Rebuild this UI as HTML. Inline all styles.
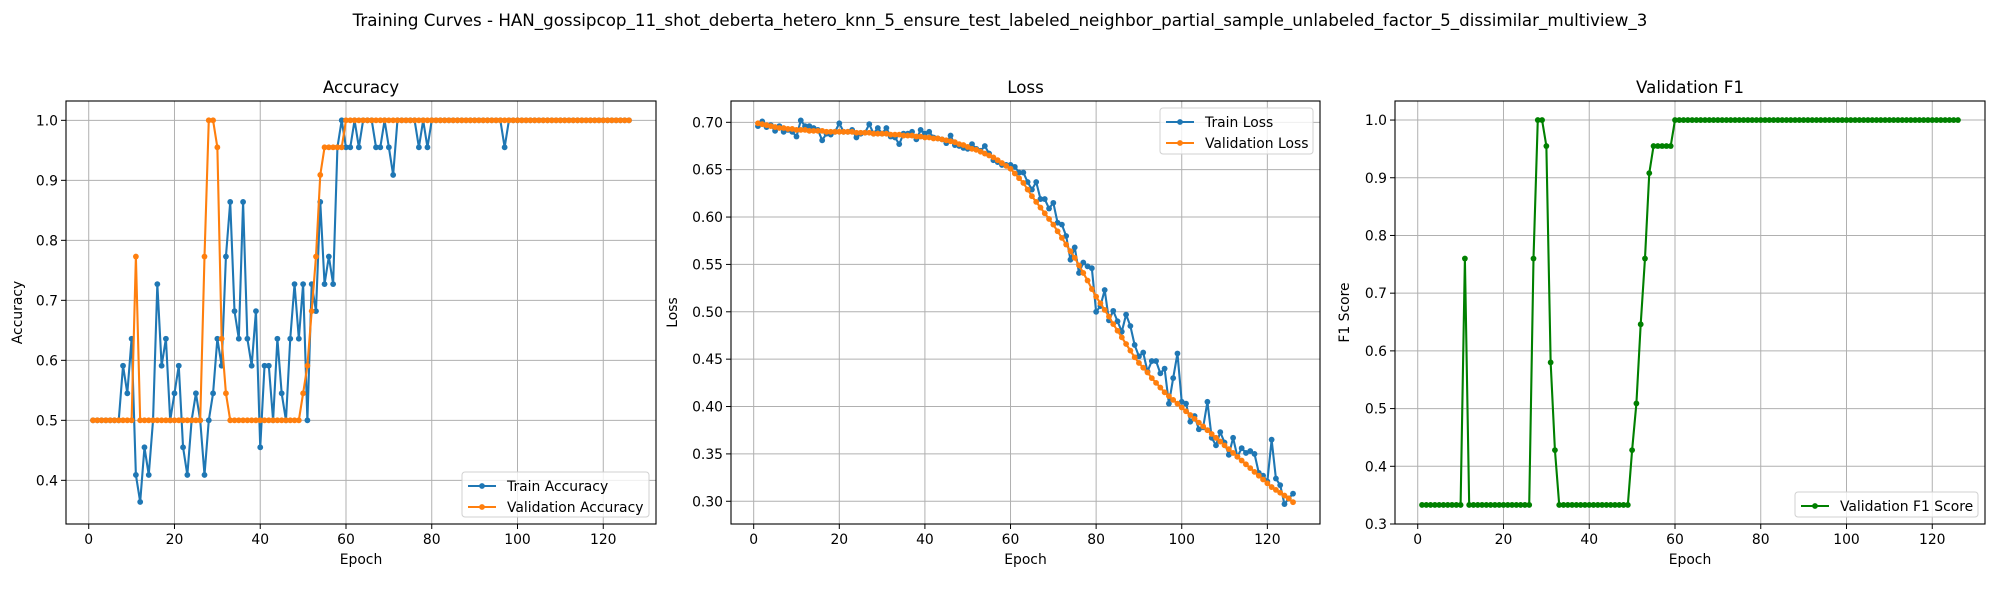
<!DOCTYPE html>
<html><head><meta charset="utf-8"><style>
body{margin:0;background:#fff;}
svg{display:block;font-family:"DejaVu Sans","Liberation Sans",sans-serif;}
</style></head><body>
<svg id="fig" width="2000" height="600" viewBox="0 0 2000 600" xmlns="http://www.w3.org/2000/svg">
<rect width="2000" height="600" fill="#fff"/>
<text x="1000" y="26" text-anchor="middle" font-size="16.7" fill="#000">Training Curves - HAN_gossipcop_11_shot_deberta_hetero_knn_5_ensure_test_labeled_neighbor_partial_sample_unlabeled_factor_5_dissimilar_multiview_3</text>
</svg>
<script>
const xTicks=[0,20,40,60,80,100,120];
const accTicks=[0.4,0.5,0.6,0.7,0.8,0.9,1.0];
const lossTicks=[0.30,0.35,0.40,0.45,0.50,0.55,0.60,0.65,0.70];
const f1Ticks=[0.3,0.4,0.5,0.6,0.7,0.8,0.9,1.0];
const trainAcc=[0.5,0.5,0.5,0.5,0.5,0.5,0.5,0.591,0.545,0.636,0.409,0.364,0.455,0.409,0.5,0.727,0.591,0.636,0.5,0.545,0.591,0.455,0.409,0.5,0.545,0.5,0.409,0.5,0.545,0.636,0.591,0.773,0.864,0.682,0.636,0.864,0.636,0.591,0.682,0.455,0.591,0.591,0.5,0.636,0.545,0.5,0.636,0.727,0.636,0.727,0.5,0.727,0.682,0.864,0.727,0.773,0.727,0.955,1.0,0.955,0.955,1.0,0.955,1.0,1.0,1.0,0.955,0.955,1.0,0.955,0.909,1,1,1,1,1,0.955,1.0,0.955,1,1,1,1,1,1,1,1,1,1,1,1,1,1,1,1,1,0.955,1,1,1,1,1,1,1,1,1,1,1,1,1,1,1,1,1,1,1,1,1,1,1,1,1,1,1,1,1];
const valAcc=[0.5,0.5,0.5,0.5,0.5,0.5,0.5,0.5,0.5,0.5,0.773,0.5,0.5,0.5,0.5,0.5,0.5,0.5,0.5,0.5,0.5,0.5,0.5,0.5,0.5,0.5,0.773,1.0,1.0,0.955,0.636,0.545,0.5,0.5,0.5,0.5,0.5,0.5,0.5,0.5,0.5,0.5,0.5,0.5,0.5,0.5,0.5,0.5,0.5,0.545,0.591,0.682,0.773,0.909,0.955,0.955,0.955,0.955,0.955,1,1,1,1,1,1,1,1,1,1,1,1,1,1,1,1,1,1,1,1,1,1,1,1,1,1,1,1,1,1,1,1,1,1,1,1,1,1,1,1,1,1,1,1,1,1,1,1,1,1,1,1,1,1,1,1,1,1,1,1,1,1,1,1,1,1,1];
const trainLoss=[0.696,0.701,0.695,0.697,0.691,0.696,0.690,0.692,0.690,0.685,0.702,0.696,0.696,0.694,0.692,0.681,0.688,0.687,0.690,0.699,0.690,0.690,0.692,0.684,0.688,0.689,0.698,0.688,0.694,0.688,0.694,0.685,0.684,0.677,0.688,0.688,0.690,0.682,0.692,0.688,0.690,0.684,0.683,0.682,0.678,0.686,0.676,0.675,0.673,0.672,0.677,0.672,0.670,0.675,0.667,0.660,0.658,0.655,0.655,0.655,0.653,0.647,0.647,0.637,0.629,0.637,0.619,0.619,0.609,0.615,0.594,0.592,0.580,0.555,0.568,0.541,0.552,0.548,0.546,0.500,0.506,0.523,0.491,0.501,0.490,0.479,0.497,0.485,0.465,0.453,0.457,0.437,0.448,0.448,0.435,0.440,0.403,0.430,0.456,0.405,0.403,0.384,0.390,0.376,0.378,0.405,0.367,0.359,0.373,0.362,0.349,0.367,0.347,0.356,0.351,0.353,0.350,0.330,0.327,0.321,0.365,0.324,0.317,0.297,0.303,0.308];
const valLoss=[0.699,0.698,0.697,0.696,0.695,0.694,0.694,0.693,0.693,0.692,0.692,0.692,0.691,0.691,0.691,0.691,0.690,0.690,0.690,0.690,0.690,0.690,0.690,0.689,0.689,0.689,0.689,0.688,0.688,0.688,0.688,0.687,0.687,0.687,0.686,0.686,0.686,0.685,0.685,0.684,0.684,0.683,0.683,0.682,0.681,0.680,0.679,0.677,0.676,0.674,0.672,0.671,0.669,0.667,0.665,0.663,0.660,0.657,0.654,0.651,0.646,0.641,0.636,0.629,0.622,0.616,0.610,0.604,0.598,0.592,0.585,0.578,0.571,0.564,0.557,0.549,0.541,0.533,0.524,0.516,0.509,0.502,0.495,0.487,0.480,0.473,0.466,0.459,0.452,0.446,0.441,0.436,0.430,0.425,0.420,0.415,0.411,0.407,0.403,0.399,0.395,0.391,0.387,0.383,0.379,0.375,0.371,0.367,0.363,0.359,0.355,0.351,0.347,0.343,0.339,0.335,0.331,0.327,0.323,0.319,0.315,0.312,0.309,0.306,0.303,0.299];
const valF1=[0.333,0.333,0.333,0.333,0.333,0.333,0.333,0.333,0.333,0.333,0.76,0.333,0.333,0.333,0.333,0.333,0.333,0.333,0.333,0.333,0.333,0.333,0.333,0.333,0.333,0.333,0.76,1.0,1.0,0.955,0.58,0.428,0.333,0.333,0.333,0.333,0.333,0.333,0.333,0.333,0.333,0.333,0.333,0.333,0.333,0.333,0.333,0.333,0.333,0.428,0.509,0.646,0.76,0.908,0.955,0.955,0.955,0.955,0.955,1,1,1,1,1,1,1,1,1,1,1,1,1,1,1,1,1,1,1,1,1,1,1,1,1,1,1,1,1,1,1,1,1,1,1,1,1,1,1,1,1,1,1,1,1,1,1,1,1,1,1,1,1,1,1,1,1,1,1,1,1,1,1,1,1,1,1];

const NS="http://www.w3.org/2000/svg";
const fig=document.getElementById('fig');
function mk(tag,attrs,parent){const e=document.createElementNS(NS,tag);for(const k in attrs)e.setAttribute(k,attrs[k]);(parent||fig).appendChild(e);return e;}

function panel(cfg){
  const g=mk('g',{});
  
  
  const L=cfg.left,R=cfg.right,T=101,B=524;
  const xs=v=>L+(v-(-5.3))/(132.3+5.3)*(R-L);
  const ys=v=>B-(v-cfg.ymin)/(cfg.ymax-cfg.ymin)*(B-T);
  // grid
  xTicks.forEach(t=>{
    const l=mk('line',{x1:xs(t),x2:xs(t),y1:T,y2:B,stroke:'#b0b0b0','stroke-width':1},g);
    
    
    mk('line',{x1:xs(t),x2:xs(t),y1:B,y2:B+5,stroke:'#000','stroke-width':1},g);
    const tx=mk('text',{x:xs(t),y:B+20,'text-anchor':'middle','font-size':13.9,fill:'#000'},g);
    tx.textContent=t;
    
    
  });
  cfg.yticks.forEach(t=>{
    const l=mk('line',{x1:L,x2:R,y1:ys(t),y2:ys(t),stroke:'#b0b0b0','stroke-width':1},g);
    
    
    mk('line',{x1:L-5,x2:L,y1:ys(t),y2:ys(t),stroke:'#000','stroke-width':1},g);
    const tx=mk('text',{x:L-8,y:ys(t)+5,'text-anchor':'end','font-size':13.9,fill:'#000'},g);
    tx.textContent=t.toFixed(cfg.dec);
    
    
  });
  // series
  cfg.series.forEach(s=>{
    const pts=s.data.map((v,i)=>xs(i+1).toFixed(2)+','+ys(v).toFixed(2)).join(' ');
    const pl=mk('polyline',{points:pts,fill:'none',stroke:s.color,'stroke-width':2.1,'stroke-linejoin':'round'},g);
    
    
    s.data.forEach((v,i)=>{
      const c=mk('circle',{cx:xs(i+1),cy:ys(v),r:2.9,fill:s.color},g);
      
      
    });
  });
  const fr=mk('rect',{x:L,y:T,width:R-L,height:B-T,fill:'none',stroke:'#000','stroke-width':1.1},g);
  
  
  const ti=mk('text',{x:(L+R)/2,y:T-8,'text-anchor':'middle','font-size':16.7,fill:'#000'},g);
  ti.textContent=cfg.title;
  
  
  const xl=mk('text',{x:(L+R)/2,y:564,'text-anchor':'middle','font-size':13.9,fill:'#000'},g);
  xl.textContent='Epoch';
  
  
  const yl=mk('text',{x:cfg.ylx,y:(T+B)/2,'text-anchor':'middle','font-size':13.9,fill:'#000',transform:'rotate(-90 '+cfg.ylx+' '+(T+B)/2+')'},g);
  yl.textContent=cfg.ylabel;
  
  
  // legend
  const lg=cfg.legend;
  const lgG=mk('g',{},g);
  
  
  mk('rect',{x:lg.x,y:lg.y,width:lg.w,height:lg.h,rx:3,fill:'#fff','fill-opacity':0.8,stroke:'#d0d0d0','stroke-width':1},lgG);
  cfg.series.forEach((s,i)=>{
    const cy=lg.y+14+i*21;
    mk('line',{x1:lg.x+6,x2:lg.x+34,y1:cy,y2:cy,stroke:s.color,'stroke-width':2.1},lgG);
    mk('circle',{cx:lg.x+20,cy:cy,r:2.9,fill:s.color},lgG);
    const t=mk('text',{x:lg.x+45,y:cy+5,'font-size':13.9,fill:'#000'},lgG);
    t.textContent=s.label;
    
    
  });
}
panel({name:'accuracy-panel',title:'Accuracy',ylabel:'Accuracy',ylx:22,left:66,right:656,ymin:0.3272,ymax:1.0322,yticks:accTicks,dec:1,
  series:[{key:'train-accuracy',label:'Train Accuracy',color:'#1f77b4',data:trainAcc},{key:'validation-accuracy',label:'Validation Accuracy',color:'#ff7f0e',data:valAcc}],
  legend:{x:462,y:472,w:187,h:45}});
panel({name:'loss-panel',title:'Loss',ylabel:'Loss',ylx:677,left:731,right:1320,ymin:0.2760,ymax:0.7225,yticks:lossTicks,dec:2,
  series:[{key:'train-loss',label:'Train Loss',color:'#1f77b4',data:trainLoss},{key:'validation-loss',label:'Validation Loss',color:'#ff7f0e',data:valLoss}],
  legend:{x:1160,y:108,w:153,h:46}});
panel({name:'f1-panel',title:'Validation F1',ylabel:'F1 Score',ylx:1349,left:1395,right:1985,ymin:0.3,ymax:1.033,yticks:f1Ticks,dec:1,
  series:[{key:'validation-f1',label:'Validation F1 Score',color:'#008000',data:valF1}],
  legend:{x:1795,y:492,w:183,h:25}});
</script>
</body></html>
